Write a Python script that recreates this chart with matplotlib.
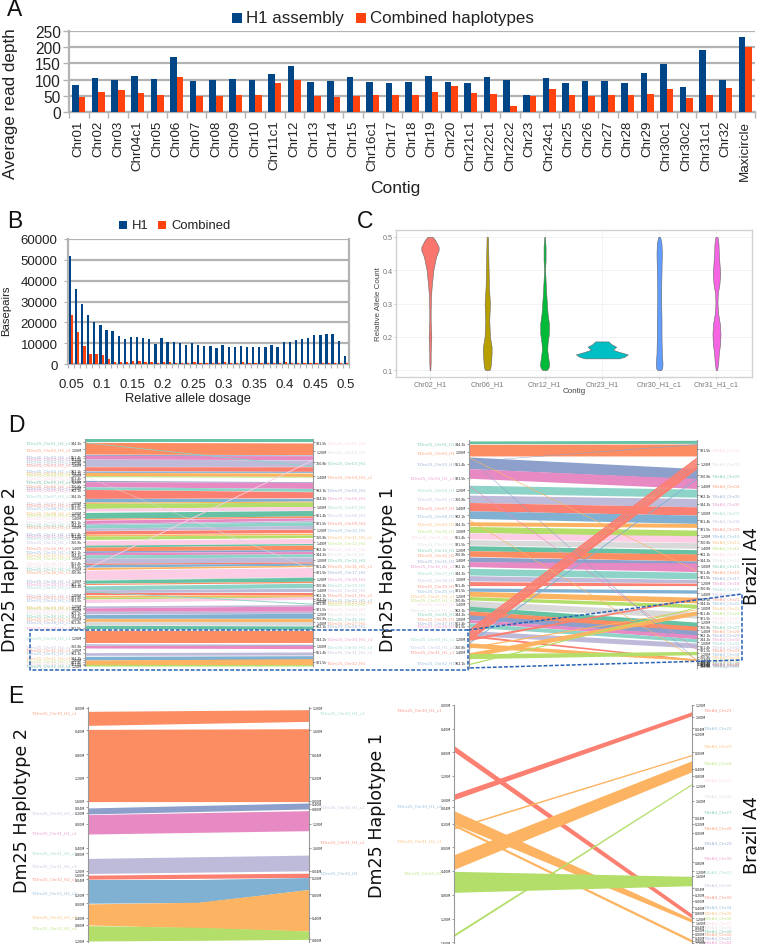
# plot.py - multi panel read depth / allele dosage / synteny figure
import matplotlib
matplotlib.use("Agg")
import matplotlib.pyplot as plt
from matplotlib.patches import Rectangle
from matplotlib.transforms import blended_transform_factory

W, H = 760, 945

NAVY = "#004586"
VERMILION = "#ff420e"
GRID = "#b3b3b3"
SANS = ["Liberation Sans", "DejaVu Sans"]
NARROW = ["Liberation Sans Narrow", "Liberation Sans", "DejaVu Sans"]

# Set2 then Set3 style colours used by the synteny ribbons
PALETTE = ["#66c2a5", "#fc8d62", "#8da0cb", "#e78ac3", "#8dd3c7", "#bebada",
           "#fb8072", "#80b1d3", "#fdb462", "#b3de69", "#fccde5", "#d9d9d9"]

# Panel A
CONTIGS = ["Chr01", "Chr02", "Chr03", "Chr04c1", "Chr05", "Chr06", "Chr07", "Chr08", "Chr09",
           "Chr10", "Chr11c1", "Chr12", "Chr13", "Chr14", "Chr15", "Chr16c1", "Chr17", "Chr18",
           "Chr19", "Chr20", "Chr21c1", "Chr22c1", "Chr22c2", "Chr23", "Chr24c1", "Chr25",
           "Chr26", "Chr27", "Chr28", "Chr29", "Chr30c1", "Chr30c2", "Chr31c1", "Chr32",
           "Maxicircle"]
DEPTH_H1 = [83, 105, 99, 112, 101, 170, 96, 98, 103, 100, 117, 143, 93, 97, 109, 94, 91, 94,
            110, 93, 88, 108, 100, 51, 106, 91, 95, 95, 91, 121, 148, 77, 192, 100, 233]
DEPTH_COMBINED = [47, 61, 69, 58, 53, 108, 49, 48, 51, 52, 90, 100, 48, 45, 48, 51, 51, 51,
                  62, 80, 60, 57, 20, 48, 70, 51, 50, 51, 51, 57, 72, 42, 51, 74, 202]

# Panel B
DOSAGE_TICKS = ["0.05", "0.1", "0.15", "0.2", "0.25", "0.3", "0.35", "0.4", "0.45", "0.5"]
BASEPAIRS_H1 = [52000, 36000, 28800, 23500, 20200, 18600, 16200, 15800, 13500, 12200, 12800,
                13200, 12400, 12100, 9800, 12700, 10800, 10700, 10000, 9000, 10200, 9200, 8700,
                8600, 7800, 8900, 8200, 8400, 8500, 8400, 8400, 8400, 8100, 9000, 8100, 10600,
                10400, 11400, 11900, 12600, 13800, 14000, 14200, 14200, 11000, 4000]
BASEPAIRS_COMBINED = [23500, 15300, 8600, 4700, 4600, 4200, 2300, 1100, 900, 900, 1400, 1300,
                      800, 1000, 400, 1200, 800, 500, 700, 300, 1200, 500, 500, 500, 300, 900,
                      500, 300, 800, 400, 300, 300, 300, 400, 300, 800, 400, 300, 300, 300,
                      500, 300, 400, 300, 300, 700]

# Panel C, violin outlines as (relative allele count, density)
VIOLIN_NAMES = ["Chr02_H1", "Chr06_H1", "Chr12_H1", "Chr23_H1", "Chr30_H1_c1", "Chr31_H1_c1"]
VIOLIN_COLORS = ["#F8766D", "#B79F00", "#00BA38", "#00BFC4", "#619CFF", "#F564E3"]
VIOLIN_CHR02 = [(0.10, 1), (0.12, 2), (0.15, 2), (0.18, 3), (0.20, 4), (0.22, 3), (0.25, 2),
                (0.28, 2), (0.32, 3), (0.35, 5), (0.40, 10), (0.42, 14), (0.44, 18), (0.46, 26),
                (0.47, 26), (0.49, 16), (0.50, 8)]
VIOLIN_CHR06 = [(0.10, 6), (0.105, 9), (0.12, 11), (0.15, 13), (0.17, 13), (0.20, 8), (0.25, 6),
                (0.30, 8), (0.35, 5), (0.40, 4), (0.45, 3), (0.50, 2)]
VIOLIN_CHR12 = [(0.10, 6), (0.105, 11), (0.115, 14), (0.13, 12), (0.16, 8), (0.18, 9), (0.21, 13),
                (0.24, 13), (0.27, 9), (0.30, 7), (0.33, 5), (0.37, 3), (0.40, 1.5), (0.43, 3),
                (0.47, 3), (0.50, 1)]
VIOLIN_CHR23 = [(0.135, 52), (0.14, 68), (0.147, 78), (0.155, 50), (0.161, 33), (0.17, 43),
                (0.178, 28), (0.186, 20)]
VIOLIN_CHR30 = [(0.10, 5), (0.105, 9), (0.12, 10), (0.15, 8), (0.20, 7), (0.25, 7), (0.30, 6),
                (0.35, 6), (0.40, 7), (0.45, 8), (0.48, 7), (0.50, 3)]
VIOLIN_CHR31 = [(0.10, 2), (0.12, 5), (0.15, 7), (0.18, 11), (0.21, 12), (0.24, 10), (0.27, 5),
                (0.30, 3), (0.33, 4), (0.36, 9), (0.39, 11), (0.42, 9), (0.45, 7), (0.48, 6),
                (0.50, 3)]
VIOLINS = [VIOLIN_CHR02, VIOLIN_CHR06, VIOLIN_CHR12, VIOLIN_CHR23, VIOLIN_CHR30, VIOLIN_CHR31]

# Panel D left: ribbons as (left start, left end, right start, right end, contig colour)
D1_RIBBONS = [
    (90, 100, 90, 100, 0), (100, 135, 102, 137, 1), (136, 139, 138, 140, 2), (139, 150, 140, 152, 3),
    (150, 172, 153, 172, 5), (173, 185, 173, 187, 6), (186, 190, 187, 190, 7), (190, 200, 192, 202, 8),
    (200, 203, 202, 204, 9), (214, 218, 218, 220, 2), (218, 233, 220, 238, 3), (233, 241, 238, 247, 4),
    (241, 268, 248, 266, 6), (268, 279, 268, 276, 7), (279, 283, 276, 279, 8), (283, 298, 279, 292, 9),
    (298, 306, 292, 303, 10), (310, 328, 304, 320, 0), (328, 331, 320, 325, 1), (333, 343, 326, 333, 3),
    (343, 347, 334, 338, 5), (347, 357, 338, 349, 4), (357, 364, 349, 359, 5), (365, 375, 360, 370, 6),
    (376, 381, 372, 376, 8), (381, 391, 377, 385, 9), (394, 408, 388, 402, 10), (408, 414, 403, 407, 0),
    (414, 425, 408, 421, 1), (425, 430, 421, 426, 2), (430, 437, 427, 434, 3), (437, 447, 434, 443, 4),
    (447, 462, 444, 458, 5), (462, 466, 458, 462, 6), (466, 474, 462, 468, 7), (475, 481, 468, 472, 8),
    (483, 510, 475, 502, 10), (510, 513, 502, 504, 11), (513, 522, 504, 516, 0), (523, 526, 516, 520, 1),
    (530, 542, 522, 535, 4), (542, 550, 537, 547, 5), (550, 556, 550, 556, 6), (558, 564, 556, 561, 8),
    (564, 569, 561, 564, 9), (570, 580, 562, 570, 10), (590, 596, 586, 590, 5), (596, 606, 590, 606, 3),
    (606, 614, 606, 612, 5), (616, 627, 612, 627, 7), (628, 636, 628, 637, 8), (637, 647, 637, 648, 11),
    (648, 658, 650, 660, 0), (664, 702, 664, 702, 1), (704, 707, 705, 708, 2), (708, 716, 708, 718, 3),
    (730, 738, 728, 737, 5), (741, 752, 739, 750, 7), (752, 766, 748, 766, 8), (765, 770, 766, 770, 9),
    (99, 101, 170, 173, 4), (200, 201, 480, 482, 11), (478, 481, 150, 153, 10), (545, 547, 582, 585, 4),
]
D1_LEFT_NAMES = ["01_H2_c1", "02_H2_c1", "03_H2_c1", "03_H2_c2", "03_H2_c3", "03_H2_c4", "03_H2_c5",
                 "04_H2_c1", "04_H2_c2", "04_H2_c3", "04_H2_c4", "05_H2_c1", "05_H2_c2", "05_H2_c3",
                 "06_H2_c1", "06_H2_c2", "07_H2_c1", "07_H2_c2", "07_H2_c3", "08_H2_c1", "08_H2_c2",
                 "09_H2_c1", "09_H2_c2", "09_H2_c3", "10_H2_c1", "10_H2_c2", "11_H2_c1", "11_H2_c2",
                 "12_H2_c1", "13_H2_c1", "14_H2_c1", "15_H2_c1", "15_H2_c2", "16_H2_c1", "16_H2_c2",
                 "17_H2_c1", "17_H2_c2", "18_H2_c1", "18_H2_c2", "19_H2_c1", "20_H2_c1", "21_H2_c1",
                 "22_H2_c1", "22_H2_c2", "23_H2_c1", "24_H2_c1", "24_H2_c2", "25_H2_c1", "26_H2_c1",
                 "27_H2_c1", "28_H2_c1", "29_H2_c1", "30_H2_c1", "30_H2_c2", "31_H2_c1", "31_H2_c2",
                 "31_H2_c3", "32_H2_c1", "32_H2_c2", "32_H2_c3", "32_H2_c4"]
D1_LEFT_POS = [100, 121, 142, 148, 155, 160, 167, 183, 190, 196, 205, 215, 218, 228, 235, 242, 259,
               281, 287, 295, 309, 315, 324, 338, 345, 352, 372, 378, 385, 398, 415, 428, 436, 445,
               460, 470, 478, 488, 515, 522, 530, 555, 562, 570, 590, 595, 600, 610, 618, 628, 637,
               655, 685, 710, 720, 730, 745, 752, 758, 764, 768]
D1_RIGHT_NAMES = ["01_HG", "02_HG", "03_HG", "04_HG_c1", "05_HG", "06_HG", "07_HG", "08_HG", "09_HG",
                  "10_HG", "11_HG_c1", "12_HG", "13_HG", "14_HG", "15_HG", "16_HG_c1", "17_HG",
                  "18_HG", "19_HG", "20_HG", "21_HG_c1", "22_HG_c1", "22_HG_c2", "23_HG", "24_HG",
                  "25_HG", "26_HG", "27_HG", "28_HG", "30_HG_c1", "30_HG_c2", "31_HG_c1", "32_HG"]
D1_RIGHT_POS = [100, 126, 160, 202, 240, 266, 293, 317, 340, 361, 381, 400, 418, 433, 451, 468, 488,
                509, 526, 541, 556, 569, 575, 581, 598, 612, 626, 639, 649, 687, 710, 727, 758]

# Panel D right
D2_RIBBONS = [
    (95, 103, 93, 102, 0), (105, 140, 104, 140, 1), (143, 178, 178, 210, 2), (178, 207, 208, 238, 3),
    (228, 252, 240, 264, 4), (258, 280, 268, 293, 5), (280, 305, 293, 318, 6), (305, 328, 318, 343, 7),
    (338, 350, 343, 355, 8), (352, 370, 363, 383, 9), (371, 389, 380, 400, 10), (392, 408, 401, 418, 11),
    (410, 425, 422, 436, 0), (425, 442, 435, 456, 1), (444, 458, 456, 470, 2), (458, 473, 462, 488, 3),
    (478, 498, 490, 510, 4), (500, 516, 512, 522, 5), (518, 530, 523, 530, 6), (537, 547, 543, 553, 7),
    (547, 562, 565, 582, 8), (563, 573, 586, 597, 9), (575, 594, 610, 628, 11), (592, 606, 640, 655, 0),
    (606, 620, 652, 668, 1), (618, 632, 665, 680, 2), (632, 641, 678, 690, 3), (642, 655, 690, 700, 4),
    (665, 680, 703, 718, 5),
    (660, 667.5, 142, 149.5, 6), (668, 675.5, 150, 156.5, 6), (676, 683.5, 157, 164.5, 6), (684, 696, 165, 178, 6),
    (700, 704, 205, 208, 7), (688, 695, 566, 570, 6), (678, 684, 752, 756, 6), (714, 718, 600, 602, 8),
    (732, 746, 606, 618, 8), (702, 716, 750, 756, 8), (735, 750, 728, 738, 9), (764, 768, 593, 596, 9),
    (143, 145, 485, 487, 8), (145, 147, 755, 757, 2), (228, 230, 722, 724, 3), (330, 332, 752, 754, 8),
    (155, 156, 103, 105, 2),
]
D2_LEFT_NAMES = ["01_H1", "02_H1", "03_H1", "04_H1_c1", "05_H1", "06_H1", "07_H1", "08_H1", "09_H1",
                 "10_H1", "11_H1_c1", "12_H1", "13_H1", "14_H1", "15_H1", "16_H1_c1", "17_H1",
                 "18_H1", "19_H1", "20_H1", "21_H1_c1", "22_H1_c1", "23_H1", "24_H1_c1", "25_H1",
                 "26_H1", "27_H1", "28_H1", "30_H1_c1", "30_H1_c2", "31_H1_c1", "32_H1"]
D2_LEFT_POS = [103, 128, 163, 205, 242, 268, 296, 319, 342, 364, 383, 403, 420, 435, 453, 470, 490,
               510, 528, 543, 559, 571, 583, 601, 615, 628, 640, 651, 688, 712, 728, 760]
D2_RIGHT_NAMES = [f"{n:02d}" for n in range(1, 44)]
D2_RIGHT_POS = [120, 163, 198, 229, 258, 284, 310, 334, 357, 378, 397, 415, 434, 452, 470, 487, 504,
                520, 537, 553, 568, 582, 597, 612, 625, 639, 652, 664, 677, 689, 700, 712, 722, 733,
                744, 752, 756, 759, 762, 764, 766, 768, 770]

D_TICK_TEXT = ["344.2k", "1.00M", "551.4k", "921.5k", "1.20M", "760.8k", "1.40M", "902.1k"]

# Panel E left: (left start, left end, right start, right end, contig colour)
E1_RIBBONS = [(68, 110, 63, 98, 1), (122, 338, 120, 338, 1), (357, 375, 342, 360, 2),
              (377, 435, 365, 425, 3), (508, 553, 498, 545, 5), (558, 570, 552, 565, 6)]
# these three bend part way across, so keep (start, bend, end) for each edge
E1_BEND_AT = 0.5
E1_BENT_TOP = [(571, 571, 565), (644, 639, 601), (709, 714, 725)]
E1_BENT_BOTTOM = [(642, 640, 601), (707, 716, 725), (755, 753, 750)]
E1_BENT_COLORS = [7, 8, 9]
E1_LEFT_NAMES = ["30_H2_c1", "30_H2_c2", "31_H2_c1", "31_H2_c2", "31_H2_c3", "32_H2_c1", "32_H2_c2",
                 "32_H2_c3", "32_H2_c4"]
E1_LEFT_POS = [70, 370, 430, 489, 529, 569, 611, 680, 713]
E1_LEFT_COLORS = [1, 5, 3, 4, 5, 6, 7, 8, 9]
E1_RIGHT_NAMES = ["30_H1_c1", "30_H1_c2", "31_H1_c1", "32_H1"]
E1_RIGHT_POS = [70, 353, 457, 550]
E1_RIGHT_COLORS = [4, 5, 6, 7]
E1_LEFT_TICKS = [57, 125, 196, 265, 335, 355, 372, 405, 476, 492, 545, 557, 570, 615, 642, 685, 707, 755]
E1_RIGHT_TICKS = [57, 125, 196, 265, 335, 345, 360, 405, 476, 545, 565, 615, 685, 750]

# Panel E right
E2_RIBBONS = [(315, 332, 68, 80, 6), (170, 188, 675, 688, 6), (415, 420, 196, 200, 8),
              (497, 541, 215, 248, 8), (365, 405, 690, 700, 8), (405, 412, 752, 760, 8),
              (547, 610, 562, 590, 9), (735, 742, 283, 287, 9)]
E2_LEFT_NAMES = ["30_H1_c1", "30_H1_c2", "31_H1_c1", "32_H1"]
E2_LEFT_POS = [62, 349, 455, 550]
E2_LEFT_COLORS = [6, 7, 8, 9]
E2_RIGHT_NAMES = [f"{n}" for n in range(21, 43)]
E2_RIGHT_POS = [62, 116, 169, 221, 271, 320, 368, 415, 461, 504, 546, 585, 623, 652, 669, 685, 700,
                712, 723, 734, 744, 756]
E2_LEFT_TICKS = [48, 119, 190, 261, 332, 355, 404, 475, 545, 618, 689, 760]
E2_RIGHT_TICKS = [48, 83, 118, 135, 190, 240, 261, 290, 335, 385, 404, 432, 477, 520, 547, 560, 598,
                  618, 636, 655, 670, 688, 700, 712, 722, 734, 745, 755, 761]
E_TICK_TEXT = ["0.00M", "0.40M", "0.80M", "1.20M", "1.60M", "0.04M", "0.20M"]

fig = plt.figure(figsize=(W / 100, H / 100), dpi=100)


def px_axes(left, top, right, bottom):
    return fig.add_axes([left / W, 1 - bottom / H, (right - left) / W, (bottom - top) / H])


def fig_text(x, y, s, **kw):
    kw.setdefault("ha", "center")
    kw.setdefault("va", "center")
    return fig.text(x / W, 1 - y / H, s, **kw)


def legend_box(left, top, size_w, size_h, color):
    fig.add_artist(Rectangle((left / W, 1 - (top + size_h) / H), size_w / W, size_h / H,
                             transform=fig.transFigure, color=color, lw=0))


def office_bar_axes(ax):
    ax.grid(axis="y", color=GRID, lw=1.6, zorder=0)
    ax.set_axisbelow(True)
    for side in ("top", "right"):
        ax.spines[side].set_visible(False)
    ax.spines["left"].set(color=GRID, lw=1.6)
    ax.spines["bottom"].set(color=GRID, lw=1.6)


def draw_ribbons(ax, ribbons):
    for lt, lb, rt, rb, c in ribbons:
        ax.fill_between([0, 1], [lt, rt], [lb, rb], color=PALETTE[c], lw=0)


def synteny_axes(left, top, right, bottom, ymin, ymax):
    ax = px_axes(left, top, right, bottom)
    ax.set_xlim(0, 1)
    ax.set_ylim(ymax, ymin)
    ax.set_xticks([])
    for side in ("top", "bottom"):
        ax.spines[side].set_visible(False)
    for side in ("left", "right"):
        ax.spines[side].set(color="#999999", lw=0.8)
    return ax


def axis_ticks(ax, left_ticks, right_ticks, texts):
    ax.set_yticks(left_ticks)
    ax.set_yticklabels([texts[i % len(texts)] for i in range(len(left_ticks))])
    ax.tick_params(axis="y", length=1.5, width=0.4, pad=0.8, labelsize=2.3, labelcolor="#222222",
                   color="#555555")
    right = ax.twinx()
    right.set_ylim(ax.get_ylim())
    right.set_yticks(right_ticks)
    right.set_yticklabels([texts[(i + 3) % len(texts)] for i in range(len(right_ticks))])
    right.tick_params(axis="y", length=1.5, width=0.4, pad=0.8, labelsize=2.3, labelcolor="#222222",
                      color="#555555")
    right.set_xticks([])
    for spine in right.spines.values():
        spine.set_visible(False)


def contig_labels(ax, x_px, names, positions, colors, ha):
    trans = blended_transform_factory(fig.transFigure, ax.transData)
    for name, pos, c in zip(names, positions, colors):
        ax.text(x_px / W, pos, name, transform=trans, ha=ha, va="center", fontsize=3.0,
                color=PALETTE[c], alpha=0.8, clip_on=False, family="DejaVu Sans")


# Panel A
ax_a = px_axes(69, 32, 755, 113)
x_a = range(len(CONTIGS))
ax_a.bar([i - 0.167 for i in x_a], DEPTH_H1, 0.335, color=NAVY, zorder=3)
ax_a.bar([i + 0.167 for i in x_a], DEPTH_COMBINED, 0.335, color=VERMILION, zorder=3)
ax_a.set_xlim(-0.5, len(CONTIGS) - 0.5)
ax_a.set_ylim(0, 250)
office_bar_axes(ax_a)
ax_a.set_xticks(list(x_a))
ax_a.set_xticklabels(CONTIGS, rotation=90, family=SANS, fontsize=9.6, color="#222222")
ax_a.set_xticks([i - 0.5 for i in range(len(CONTIGS) + 1)], minor=True)
ax_a.tick_params(axis="x", which="major", length=0, pad=5.5)
ax_a.tick_params(axis="x", which="minor", length=4, width=1, color=GRID)
ax_a.set_yticks([0, 50, 100, 150, 200, 250])
ax_a.set_yticklabels([0, 50, 100, 150, 200, 250], family=NARROW, fontsize=11.2, color="#222222")
ax_a.tick_params(axis="y", length=4, width=1, color=GRID, pad=2)
fig_text(11, 104, "Average read depth", rotation=90, family=SANS, fontsize=12.3, color="#222222")
fig_text(395, 189, "Contig", family=NARROW, fontsize=12.5, color="#222222")
legend_box(232, 14, 10, 10, NAVY)
fig_text(246, 19, "H1 assembly", ha="left", family=NARROW, fontsize=12.2, color="#222222")
legend_box(356, 14, 10, 10, VERMILION)
fig_text(370, 19, "Combined haplotypes", ha="left", family=NARROW, fontsize=12.2, color="#222222")

# Panel B
ax_b = px_axes(68, 240, 349, 365)
x_b = range(len(BASEPAIRS_H1))
ax_b.bar([i - 0.19 for i in x_b], BASEPAIRS_H1, 0.38, color=NAVY, zorder=3)
ax_b.bar([i + 0.19 for i in x_b], BASEPAIRS_COMBINED, 0.38, color=VERMILION, zorder=3)
ax_b.set_xlim(-0.5, len(BASEPAIRS_H1) - 0.5)
ax_b.set_ylim(0, 60000)
office_bar_axes(ax_b)
ax_b.spines["right"].set_visible(True)
ax_b.spines["right"].set(color=GRID, lw=1.6)
ax_b.set_xticks(list(range(0, len(BASEPAIRS_H1), 5)))
ax_b.set_xticklabels(DOSAGE_TICKS, family=SANS, fontsize=9.5, color="#222222")
ax_b.set_xticks([i - 0.5 for i in range(len(BASEPAIRS_H1) + 1)], minor=True)
ax_b.tick_params(axis="x", which="major", length=0, pad=10)
ax_b.tick_params(axis="x", which="minor", length=3, width=0.8, color=GRID)
ax_b.set_yticks([0, 10000, 20000, 30000, 40000, 50000, 60000])
ax_b.set_yticklabels([0, 10000, 20000, 30000, 40000, 50000, 60000], family=SANS, fontsize=9.5,
                     color="#222222")
ax_b.tick_params(axis="y", length=3, width=0.8, color=GRID, pad=4.5)
fig_text(6, 311, "Basepairs", rotation=90, family=SANS, fontsize=8.2, color="#222222")
fig_text(188, 399, "Relative allele dosage", family=SANS, fontsize=9.3, color="#222222")
legend_box(119, 222, 8, 8, NAVY)
fig_text(132, 226, "H1", ha="left", family=SANS, fontsize=9.4, color="#222222")
legend_box(158, 222, 8, 8, VERMILION)
fig_text(171, 226, "Combined", ha="left", family=SANS, fontsize=9.4, color="#222222")

# Panel C
ax_c = px_axes(396, 231, 752, 378)
for i, (profile, color) in enumerate(zip(VIOLINS, VIOLIN_COLORS)):
    ys = [p[0] for p in profile]
    half = [p[1] / 172 for p in profile]
    ax_c.fill_betweenx(ys, [i - h for h in half], [i + h for h in half], color=color,
                       edgecolor="#666666", lw=0.4, zorder=3)
ax_c.set_xlim(-0.593, 5.62)
ax_c.set_ylim(0.079, 0.521)
ax_c.set_xticks(range(len(VIOLIN_NAMES)))
ax_c.set_xticklabels(VIOLIN_NAMES, family=SANS, fontsize=5.2, color="#777777")
ax_c.set_yticks([0.1, 0.2, 0.3, 0.4, 0.5])
ax_c.set_yticklabels(["0.1", "0.2", "0.3", "0.4", "0.5"], family=SANS, fontsize=5.2, color="#777777")
ax_c.tick_params(length=1.5, width=0.4, color="#999999", pad=0.6)
ax_c.grid(color="#eeeeee", lw=0.5, zorder=0)
ax_c.set_axisbelow(True)
for spine in ax_c.spines.values():
    spine.set(color="#d2d2d2", lw=1)
fig_text(379, 304, "Relative Allele Count", rotation=90, family=SANS, fontsize=5.8, color="#444444")
fig_text(574, 392, "Contig", family=SANS, fontsize=5.8, color="#444444")

# Panel D
ax_d1 = synteny_axes(85, 440, 313, 667, 90, 770)
draw_ribbons(ax_d1, D1_RIBBONS)
axis_ticks(ax_d1, D1_LEFT_POS, D1_RIGHT_POS, D_TICK_TEXT)
contig_labels(ax_d1, 71, ["TcDm25_Chr" + n for n in D1_LEFT_NAMES], D1_LEFT_POS,
              [i % 12 for i in range(len(D1_LEFT_POS))], "right")
contig_labels(ax_d1, 326, ["TcDm25_Chr" + n for n in D1_RIGHT_NAMES], D1_RIGHT_POS,
              [(i + 10) % 12 for i in range(len(D1_RIGHT_POS))], "left")

ax_d2 = synteny_axes(469, 441, 697, 669, 92, 778)
draw_ribbons(ax_d2, D2_RIBBONS)
axis_ticks(ax_d2, D2_LEFT_POS, D2_RIGHT_POS, D_TICK_TEXT)
contig_labels(ax_d2, 455, ["TcDm25_Chr" + n for n in D2_LEFT_NAMES], D2_LEFT_POS,
              [i % 12 for i in range(len(D2_LEFT_POS))], "right")
contig_labels(ax_d2, 711, ["TcBrA4_Chr" + n for n in D2_RIGHT_NAMES], D2_RIGHT_POS,
              [(i + 10) % 12 for i in range(len(D2_RIGHT_POS))], "left")

# Panel E
ax_e1 = synteny_axes(88, 708, 309, 943, 55, 758)
draw_ribbons(ax_e1, E1_RIBBONS)
for top, bottom, c in zip(E1_BENT_TOP, E1_BENT_BOTTOM, E1_BENT_COLORS):
    ax_e1.fill_between([0, E1_BEND_AT, 1], top, bottom, color=PALETTE[c], lw=0)
axis_ticks(ax_e1, E1_LEFT_TICKS, E1_RIGHT_TICKS, E_TICK_TEXT)
contig_labels(ax_e1, 77, ["TcDm25_Chr" + n for n in E1_LEFT_NAMES], E1_LEFT_POS, E1_LEFT_COLORS, "right")
contig_labels(ax_e1, 319, ["TcDm25_Chr" + n for n in E1_RIGHT_NAMES], E1_RIGHT_POS, E1_RIGHT_COLORS, "left")

ax_e2 = synteny_axes(454, 706, 692, 944, 48, 762)
draw_ribbons(ax_e2, E2_RIBBONS)
axis_ticks(ax_e2, E2_LEFT_TICKS, E2_RIGHT_TICKS, E_TICK_TEXT)
contig_labels(ax_e2, 442, ["TcDm25_Chr" + n for n in E2_LEFT_NAMES], E2_LEFT_POS, E2_LEFT_COLORS, "right")
contig_labels(ax_e2, 703, ["TcBrA4_Chr" + n for n in E2_RIGHT_NAMES], E2_RIGHT_POS,
              [(i + 6) % 12 for i in range(len(E2_RIGHT_POS))], "left")

# Side titles and panel letters
fig_text(10, 569, "Dm25 Haplotype 2", rotation=90, family="DejaVu Sans", fontsize=12.6, color="#111111")
fig_text(388, 569, "Dm25 Haplotype 1", rotation=90, family="DejaVu Sans", fontsize=12.6, color="#111111")
fig_text(752, 566, "Brazil A4", rotation=90, family="DejaVu Sans", fontsize=12.6, color="#111111")
fig_text(22, 811, "Dm25 Haplotype 2", rotation=90, family="DejaVu Sans", fontsize=12.6, color="#111111")
fig_text(377, 816, "Dm25 Haplotype 1", rotation=90, family="DejaVu Sans", fontsize=12.6, color="#111111")
fig_text(752, 835, "Brazil A4", rotation=90, family="DejaVu Sans", fontsize=12.6, color="#111111")
for letter, x, y in [("A", 15, 10), ("B", 15, 222), ("C", 365, 222), ("D", 16, 425), ("E", 16, 697)]:
    fig_text(x, y, letter, family=SANS, fontsize=16.5, color="#111111")

# Dashed box that links panel D to panel E, drawn on a figure sized overlay
overlay = fig.add_axes([0, 0, 1, 1], zorder=10)
overlay.set_xlim(0, W)
overlay.set_ylim(H, 0)
overlay.axis("off")
overlay.patch.set_alpha(0)
overlay.plot([468, 30, 30, 468, 468], [631, 631, 670.5, 670.5, 631], color="#2a62b5", lw=1.1, ls=(0, (2.5, 1.2)))
overlay.plot([468, 742, 742, 468], [631, 595, 661, 669], color="#2a62b5", lw=1.1, ls=(0, (2.5, 1.2)))

fig.savefig("out.png", dpi=100)
